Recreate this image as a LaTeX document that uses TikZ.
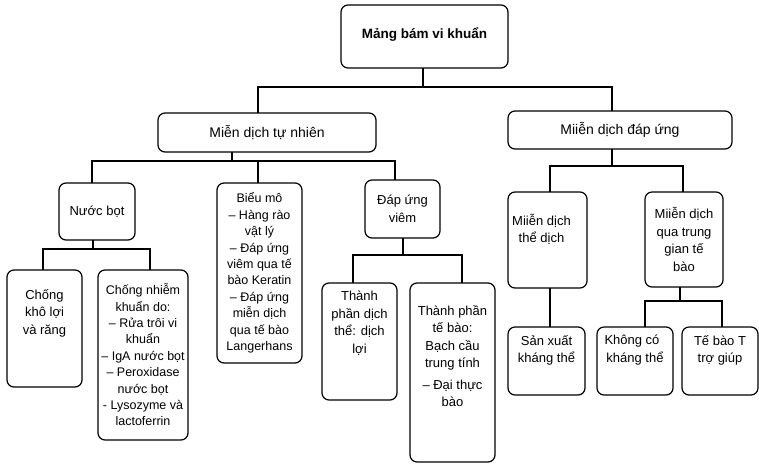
\documentclass[tikz,border=0pt]{standalone}
\usepackage{fontspec}
\setmainfont{Liberation Sans}
\begin{document}
\begin{tikzpicture}[x=1pt,y=-1pt,
  box/.style={draw=black, line width=1.2pt, rounded corners=7pt, inner sep=0pt, outer sep=0pt},
  conn/.style={draw=black, line width=1.2pt},
  fs/.style={font=\fontsize{13}{17.5}\selectfont},
  fsm/.style={font=\fontsize{12.5}{16.4}\selectfont},
  fsl/.style={font=\fontsize{14}{18}\selectfont},
  fsb/.style={font=\fontsize{13.5}{18}\selectfont\bfseries}]
\useasboundingbox (0,0) rectangle (759,464);
% centered box: name, style, x1, y1, x2, y2, text
\newcommand\bxc[7]{\node[box,#2] (#1) at ({(#3+#5)/2},{(#4+#6)/2}) {\parbox[c][\dimexpr#6pt-#4pt\relax][c]{\dimexpr#5pt-#3pt\relax}{\centering #7\par}};}
% top-aligned box with top padding as first item of text
\newcommand\bxt[7]{\node[box,#2] (#1) at ({(#3+#5)/2},{(#4+#6)/2}) {\parbox[c][\dimexpr#6pt-#4pt\relax][t]{\dimexpr#5pt-#3pt\relax}{\centering #7\par}};}

\bxc{root}{fsb}{341}{5}{508}{68}{Mảng bám vi khuẩn\vspace*{4pt}}
\bxc{tn}{fsl}{158}{113}{376}{152}{Miễn dịch tự nhiên}
\bxc{du}{fsl}{508}{111}{732}{149}{Miiễn dịch đáp ứng}

\bxc{nb}{fs}{59}{183}{135}{240}{Nước bọt}
\bxc{bm}{fsm}{217}{183}{302}{363}{Biểu mô\\– Hàng rào\\vật lý\\– Đáp ứng\\viêm qua tế\\bào Keratin\\– Đáp ứng\\miễn dịch\\qua tế bào\\Langerhans}
\bxc{dv}{fs}{365}{180}{440}{238}{Đáp ứng\\viêm}

\bxt{ck}{fs}{7}{270}{82}{387}{\vspace*{19pt}Chống\\khô lợi\\và răng}
\bxc{cn}{fsm}{98}{270}{188}{440}{Chống nhiễm\\khuẩn do:\\– Rửa trôi vi\\khuẩn\\– IgA nước bọt\\– Peroxidase\\nước bọt\\- Lysozyme và\\lactoferrin}

\bxt{tpd}{fs}{322}{283}{397}{400}{\vspace*{8pt}Thành\\phần dịch\\thể: dịch\\lợi}
\bxt{tpt}{fs}{410}{283}{495}{462}{\vspace*{22pt}Thành phần\\tế bào:\\Bạch cầu\\trung tính\\[4pt]– Đại thực\\bào}

\bxt{td}{fs}{508}{192}{587}{288}{\vspace*{22pt}\hspace*{-12pt}Miiễn dịch\\\hspace*{-12pt}thể dịch}
\bxc{tg}{fs}{645}{192}{723}{287}{Miiễn dịch\\qua trung\\gian tế\\bào}

\bxt{sx}{fs}{508}{327}{585}{395}{\vspace*{8pt}Sản xuất\\kháng thể}
\bxt{kc}{fs}{597}{327}{673}{395}{\vspace*{8pt}\hspace*{-6pt}Không có\\kháng thể}
\bxt{tb}{fs}{682}{327}{758}{395}{\vspace*{8pt}Tế bào T\\trợ giúp}

% junction coordinates
\coordinate (a1) at (258,87);
\coordinate (a2) at (612,87);
\coordinate (a0) at (423,87);
\coordinate (c1) at (92,161);
\coordinate (c2) at (258,161);
\coordinate (c3) at (395,161);
\coordinate (c0) at (232,161);
\coordinate (d1) at (43,249);
\coordinate (d2) at (150,249);
\coordinate (d0) at (93,249);
\coordinate (e1) at (353,255);
\coordinate (e2) at (462,255);
\coordinate (e0) at (403,255);
\coordinate (f1) at (550,166);
\coordinate (f2) at (683,166);
\coordinate (f0) at (612,166);
\coordinate (g0) at (550,300);
\coordinate (h1) at (645,301);
\coordinate (h2) at (722,301);
\coordinate (h0) at (680,301);

\draw[conn] (a0 |- root.south) -- (a0);
\draw[conn] (a1 |- tn.north) -- (a1) -- (a2) -- (a2 |- du.north);

\draw[conn] (c0 |- tn.south) -- (c0);
\draw[conn] (c1 |- nb.north) -- (c1) -- (c3) -- (c3 |- dv.north);
\draw[conn] (c2) -- (c2 |- bm.north);

\draw[conn] (d0 |- nb.south) -- (d0);
\draw[conn] (d1 |- ck.north) -- (d1) -- (d2) -- (d2 |- cn.north);

\draw[conn] (e0 |- dv.south) -- (e0);
\draw[conn] (e1 |- tpd.north) -- (e1) -- (e2) -- (e2 |- tpt.north);

\draw[conn] (f0 |- du.south) -- (f0);
\draw[conn] (f1 |- td.north) -- (f1) -- (f2) -- (f2 |- tg.north);

\draw[conn] (g0 |- td.south) -- (g0 |- sx.north);

\draw[conn] (h0 |- tg.south) -- (h0);
\draw[conn] (h1 |- kc.north) -- (h1) -- (h2) -- (h2 |- tb.north);
\end{tikzpicture}
\end{document}
